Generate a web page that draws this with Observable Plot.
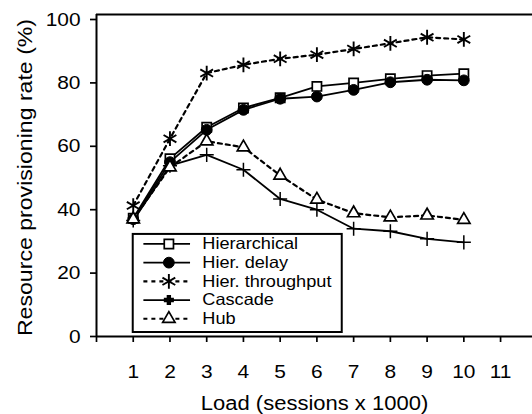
<!DOCTYPE html>
<html><head><meta charset="utf-8">
<script src="https://cdn.jsdelivr.net/npm/d3@7"></script>
<script src="https://cdn.jsdelivr.net/npm/@observablehq/plot@0.6"></script>
<style>
html,body{margin:0;padding:0;background:#fff;}
#chart svg{font-family:"Liberation Sans",Arial,sans-serif;overflow:hidden;}
g[aria-label^="x-axis"] line, g[aria-label^="x-axis"] path,
g[aria-label^="y-axis"] line, g[aria-label^="y-axis"] path{stroke-width:1.7;}
</style></head><body><div id="chart"></div>
<script>
// ---- data ----
const loads = [1, 2, 3, 4, 5, 6, 7, 8, 9, 10];
const hierarchical   = [37.3, 56.1, 66.0, 72.1, 75.3, 78.9, 80.0, 81.3, 82.3, 82.9];
const hierDelay      = [37.0, 55.0, 65.2, 71.5, 75.0, 75.7, 77.8, 80.2, 81.0, 80.8];
const hierThroughput = [41.3, 62.4, 83.1, 85.7, 87.6, 88.9, 90.7, 92.5, 94.4, 93.7];
const cascade        = [36.6, 53.9, 57.3, 52.6, 43.4, 40.0, 34.0, 33.2, 30.8, 29.7];
const hub            = [37.0, 53.4, 61.6, 59.7, 50.8, 43.2, 38.9, 37.6, 38.2, 36.8];
const seriesNames = ["Hierarchical", "Hier. delay", "Hier. throughput", "Cascade", "Hub"];
const seriesValues = [hierarchical, hierDelay, hierThroughput, cascade, hub];
const xTicks = [0, 1, 2, 3, 4, 5, 6, 7, 8, 9, 10, 11];
const yTicks = [0, 20, 40, 60, 80, 100];
const xTitle = "Load (sessions x 1000)";
const yTitle = "Resource provisioning rate (%)";

// ---- styles ----
const styles = [
  {symbol: "square",   r: 5.2, fill: "white", sw: 1.7, dash: null},
  {symbol: "circle",   r: 5.4, fill: "black", sw: 1.0, dash: null},
  {symbol: "asterisk", r: 7.0, fill: "none",  sw: 1.9, dash: "4,4"},
  {symbol: "plus",     r: 4.6, fill: "none",  sw: 1.5, dash: null, lSymbol: "cross", lR: 3.6, lFill: "black"},
  {symbol: "triangle", r: 4.6, fill: "white", sw: 1.7, dash: "4,4"}
];

const marks = [];
// frame lines
marks.push(Plot.ruleX([0], {stroke: "black", strokeWidth: 2}));
marks.push(Plot.ruleY([101.6], {stroke: "black", strokeWidth: 2}));
marks.push(Plot.ruleY([0], {stroke: "black", strokeWidth: 2}));

seriesNames.forEach((name, i) => {
  const s = styles[i];
  const rows = loads.map((x, j) => ({load: x, value: seriesValues[i][j], series: name}));
  marks.push(Plot.line(rows, {x: "load", y: "value", stroke: "black",
    strokeWidth: s.dash ? 2.2 : 1.8, strokeDasharray: s.dash || undefined}));
});
seriesNames.forEach((name, i) => {
  const s = styles[i];
  const rows = loads.map((x, j) => ({load: x, value: seriesValues[i][j], series: name}));
  marks.push(Plot.dot(rows, {x: "load", y: "value", symbol: s.symbol, r: s.r,
    fill: s.fill, stroke: "black", strokeWidth: s.sw}));
});

// legend (in data space)
const legendRows = seriesNames.map((name, i) => ({name, y: 29.2 - i * 5.9}));
marks.push(Plot.rect([0], {x1: 1.0, x2: 6.69, y1: 1.26, y2: 32.2, fill: "white", stroke: "black", strokeWidth: 2}));
legendRows.forEach((row, i) => {
  const s = styles[i];
  marks.push(Plot.ruleY([row], {y: "y", x1: 1.29, x2: 2.56, stroke: "black",
    strokeWidth: s.dash ? 2.2 : 1.8, strokeDasharray: s.dash || undefined}));
  marks.push(Plot.dot([row], {x: 1.97, y: "y", symbol: s.lSymbol || s.symbol, r: s.lR || s.r,
    fill: s.lFill || s.fill, stroke: "black", strokeWidth: s.sw}));
});
marks.push(Plot.text(legendRows, {x: 2.88, y: "y", text: "name", textAnchor: "start",
  fontSize: 16.5, fill: "black"}));

// axis titles
marks.push(Plot.text([xTitle], {frameAnchor: "bottom", dy: 67, textAnchor: "middle", lineAnchor: "middle",
  fontSize: 20, fill: "black"}));
marks.push(Plot.text([yTitle], {frameAnchor: "left", dx: -71, dy: 2, rotate: -90, textAnchor: "middle",
  lineAnchor: "middle", fontSize: 21, fill: "black", ariaLabel: "ytitle"}));

const chart = Plot.plot({
  width: 532, height: 414,
  marginLeft: 96, marginRight: 0, marginTop: 14, marginBottom: 78,
  style: {fontSize: "19px", fontFamily: "'Liberation Sans', Arial, sans-serif", background: "white", color: "black"},
  x: {domain: [0, 12], range: [96, 536.8], ticks: xTicks, tickFormat: d => d === 0 ? "" : String(d),
      tickSize: 6, tickPadding: 22, label: null},
  y: {domain: [0, 100], range: [336, 19], ticks: yTicks, tickSize: 6, tickPadding: 10, label: null},
  marks
});
document.getElementById("chart").append(chart);

// slight horizontal widening of horizontal texts to match the reference glyph proportions
const stretch = 1.1;
chart.querySelectorAll("text").forEach(t => {
  if (t.closest('[aria-label="ytitle"]')) return;
  const len = t.getComputedTextLength();
  if (len > 0) {
    t.setAttribute("textLength", (len * stretch).toFixed(2));
    t.setAttribute("lengthAdjust", "spacingAndGlyphs");
  }
});
</script></body></html>
